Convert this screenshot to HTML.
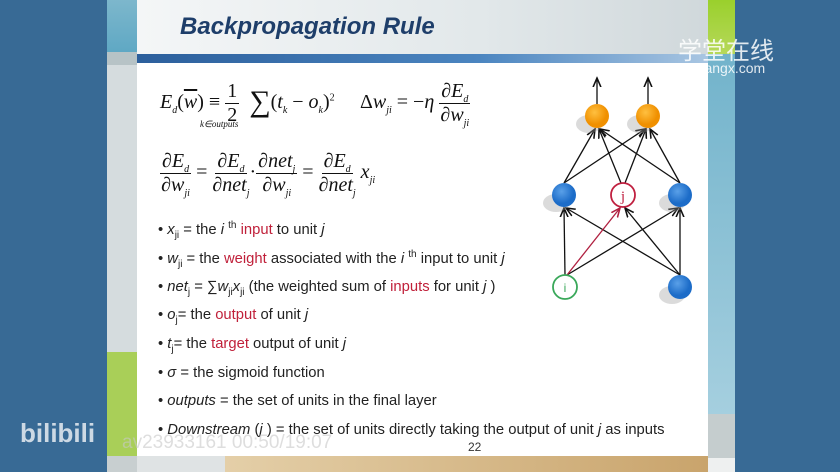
<!DOCTYPE html>
<html><head><style>
body{margin:0;width:840px;height:472px;background:#386a95;position:relative;overflow:hidden;font-family:"Liberation Sans",sans-serif}
.a{position:absolute}
.s{font-family:"Liberation Serif",serif;font-size:20px;color:#111;white-space:nowrap}
.i{font-style:italic}
.b{font-size:14.8px;color:#222;white-space:nowrap;left:158px;line-height:18px}
.r{color:#c0203a}
sub,sup{font-size:10px;line-height:0}
.fr{display:inline-flex;flex-direction:column;align-items:center;vertical-align:middle;line-height:23px}
.fr>.n{border-bottom:1px solid #111;padding:0 2px}
</style></head><body>
<div class="a" style="left:107px;top:0;width:30px;height:52px;background:linear-gradient(#7db7cc,#5fa8c4)"></div>
<div class="a" style="left:107px;top:52px;width:30px;height:13px;background:#b7c3c6"></div>
<div class="a" style="left:107px;top:65px;width:30px;height:287px;background:#d5dcde"></div>
<div class="a" style="left:107px;top:352px;width:30px;height:104px;background:#a9cf58"></div>
<div class="a" style="left:107px;top:456px;width:30px;height:16px;background:#c8cfd0"></div>
<div class="a" style="left:708px;top:0;width:27px;height:54px;background:linear-gradient(#9ad02c,#b6d85a)"></div>
<div class="a" style="left:708px;top:54px;width:27px;height:360px;background:linear-gradient(#72b3cb,#a5cfdf)"></div>
<div class="a" style="left:708px;top:414px;width:27px;height:44px;background:#c5cdce"></div>
<div class="a" style="left:708px;top:458px;width:27px;height:14px;background:#eef0f0"></div>
<div class="a" style="left:137px;top:0;width:571px;height:54px;background:linear-gradient(90deg,#f4f6f7,#e2e8ea 60%,#d0d8db)"></div>
<div class="a" style="left:180px;top:13px;font-size:24px;font-weight:bold;font-style:italic;color:#1e3e6a">Backpropagation Rule</div>
<div class="a" style="left:137px;top:54px;width:571px;height:9px;background:linear-gradient(90deg,#2c5f9c,#4b85c0 60%,#a9c6e2)"></div>
<div class="a" style="left:137px;top:63px;width:571px;height:393px;background:#fff"></div>
<div class="a" style="left:137px;top:456px;width:88px;height:16px;background:#dfe3e4"></div>
<div class="a" style="left:225px;top:456px;width:483px;height:16px;background:linear-gradient(90deg,#e4cfa8,#c9a46c)"></div>
<div class="a s" style="left:160px;top:80px"><span class="i">E<sub>d</sub></span>(<span class="i" style="text-decoration:overline">w</span>) ≡ <span class="fr"><span class="n">1</span><span>2</span></span>&nbsp;&nbsp;<span style="font-size:30px;position:relative;top:3px">∑</span>(<span class="i">t<sub>k</sub></span> − <span class="i">o<sub>k</sub></span>)<sup>2</sup></div>
<div class="a s i" style="left:200px;top:119px;font-size:9px">k∈outputs</div>
<div class="a s" style="left:360px;top:80px">Δ<span class="i">w<sub>ji</sub></span> = −<span class="i">η</span> <span class="fr"><span class="n">∂<span class="i">E<sub>d</sub></span></span><span>∂<span class="i">w<sub>ji</sub></span></span></span></div>
<div class="a s" style="left:160px;top:150px"><span class="fr"><span class="n">∂<span class="i">E<sub>d</sub></span></span><span>∂<span class="i">w<sub>ji</sub></span></span></span> = <span class="fr"><span class="n">∂<span class="i">E<sub>d</sub></span></span><span>∂<span class="i">net<sub>j</sub></span></span></span>·<span class="fr"><span class="n">∂<span class="i">net<sub>j</sub></span></span><span>∂<span class="i">w<sub>ji</sub></span></span></span> = <span class="fr"><span class="n">∂<span class="i">E<sub>d</sub></span></span><span>∂<span class="i">net<sub>j</sub></span></span></span> <span class="i">x<sub>ji</sub></span></div>
<div class="a b" style="top:221px">• <i>x</i><sub>ji</sub> = the <i>i</i> <sup>th</sup> <span class="r">input</span> to unit <i>j</i></div>
<div class="a b" style="top:250px">• <i>w</i><sub>ji</sub> = the <span class="r">weight</span> associated with the <i>i</i> <sup>th</sup> input to unit <i>j</i></div>
<div class="a b" style="top:278px">• <i>net</i><sub>j</sub> = ∑<i>w</i><sub>ji</sub><i>x</i><sub>ji</sub> (the weighted sum of <span class="r">inputs</span> for unit <i>j</i> )</div>
<div class="a b" style="top:306px">• <i>o</i><sub>j</sub>= the <span class="r">output</span> of unit <i>j</i></div>
<div class="a b" style="top:335px">• <i>t</i><sub>j</sub>= the <span class="r">target</span> output of unit <i>j</i></div>
<div class="a b" style="top:364px">• <i>σ</i> = the sigmoid function</div>
<div class="a b" style="top:392px">• <i>outputs</i> = the set of units in the final layer</div>
<div class="a b" style="top:421px">• <i>Downstream</i> (<i>j</i> ) = the set of units directly taking the output of unit <i>j</i> as inputs</div>
<div class="a" style="left:468px;top:440px;font-size:12px;color:#333">22</div>
<svg class="a" style="left:0;top:0" width="840" height="472">
<defs><marker id="m" markerWidth="8" markerHeight="8" refX="7" refY="4" orient="auto"><path d="M0,1 L7,4 L0,7" fill="none" stroke="#111" stroke-width="1.2"/></marker>
<marker id="mr" markerWidth="8" markerHeight="8" refX="7" refY="4" orient="auto"><path d="M0,1 L7,4 L0,7" fill="none" stroke="#b02040" stroke-width="1.2"/></marker>
<radialGradient id="o" cx="40%" cy="35%"><stop offset="0" stop-color="#ffc040"/><stop offset="1" stop-color="#f09000"/></radialGradient>
<radialGradient id="bl" cx="40%" cy="35%"><stop offset="0" stop-color="#5aa0e8"/><stop offset="1" stop-color="#1c6cc8"/></radialGradient></defs>
<g stroke="#111" stroke-width="1.3" marker-end="url(#m)">
<line x1="597" y1="104" x2="597" y2="78"/><line x1="648" y1="104" x2="648" y2="78"/>
<line x1="564" y1="183" x2="595" y2="129"/><line x1="564" y1="183" x2="645" y2="129"/>
<line x1="621" y1="183" x2="599" y2="129"/><line x1="625" y1="183" x2="646" y2="129"/>
<line x1="680" y1="183" x2="600" y2="129"/><line x1="680" y1="183" x2="650" y2="129"/>
<line x1="565" y1="275" x2="564" y2="208"/><line x1="567" y1="275" x2="678" y2="208"/>
<line x1="680" y1="275" x2="566" y2="208"/><line x1="680" y1="275" x2="625" y2="208"/><line x1="680" y1="275" x2="680" y2="208"/>
</g>
<line x1="567" y1="275" x2="620" y2="208" stroke="#b02040" stroke-width="1.3" marker-end="url(#mr)"/>
<g fill="#999" opacity=".35"><ellipse cx="589" cy="124" rx="13" ry="9"/><ellipse cx="640" cy="124" rx="13" ry="9"/><ellipse cx="556" cy="203" rx="13" ry="9"/><ellipse cx="672" cy="203" rx="13" ry="9"/><ellipse cx="672" cy="295" rx="13" ry="9"/></g>
<circle cx="597" cy="116" r="12" fill="url(#o)"/><circle cx="648" cy="116" r="12" fill="url(#o)"/>
<circle cx="564" cy="195" r="12" fill="url(#bl)"/><circle cx="680" cy="195" r="12" fill="url(#bl)"/><circle cx="680" cy="287" r="12" fill="url(#bl)"/>
<circle cx="623" cy="195" r="12" fill="#fff" stroke="#c02040" stroke-width="1.8"/>
<text x="623" y="201" font-family="Liberation Serif" font-size="15" fill="#c02040" text-anchor="middle">j</text>
<circle cx="565" cy="287" r="12" fill="#fff" stroke="#3aa85a" stroke-width="1.8"/>
<text x="565" y="292" font-family="Liberation Sans" font-size="12" fill="#3aa85a" text-anchor="middle">i</text>
</svg>
<div class="a" style="left:678px;top:31px;font-family:'Liberation Sans','Noto Sans CJK SC',sans-serif;font-size:24px;color:rgba(255,255,255,.85)">学堂在线</div>
<div class="a" style="left:678px;top:60px;font-size:14px;color:rgba(255,255,255,.85)">xuetangx.com</div>
<div class="a" style="left:20px;top:418px;font-size:26px;font-weight:bold;color:rgba(255,255,255,.75)">bilibili</div>
<div class="a" style="left:122px;top:432px;font-size:19px;color:rgba(200,200,200,.6)">av23933161 00:50/19:07</div>
</body></html>
